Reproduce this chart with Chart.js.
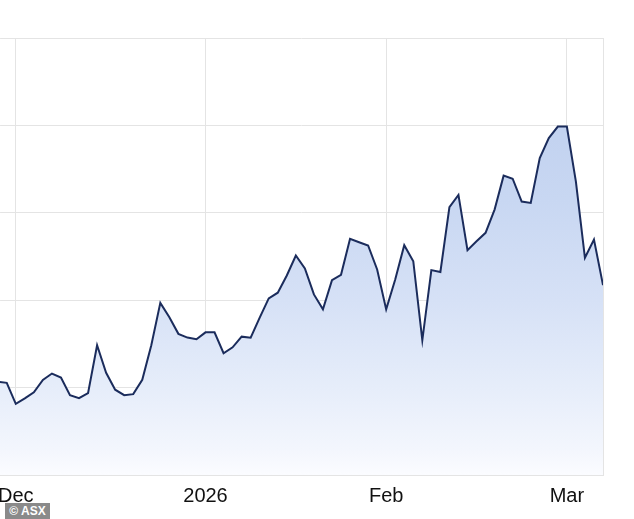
<!DOCTYPE html>
<html>
<head>
<meta charset="utf-8">
<script src="https://cdn.jsdelivr.net/npm/chart.js@4"></script>
<style>
  html, body { margin: 0; padding: 0; background: #ffffff; }
  #wrap { position: relative; width: 634px; height: 519px; overflow: hidden; }
  canvas { position: absolute; left: -11px; top: 0; }
  #credit { position: absolute; left: 5px; top: 503px; width: 45px; height: 16px; background: #8a8a8a; color: #ffffff;
    font: bold 12px "Liberation Sans", Arial, sans-serif; line-height: 16px; text-align: center; }
</style>
</head>
<body>
<div id="wrap">
  <canvas id="c" width="645" height="519"></canvas>
  <div id="credit">© ASX</div>
</div>
<script>
// Trading-day index of the first value (two sessions before 1 Dec)
const firstIndex = -2;
// Daily closing values (relative units), one per trading day
const values = [
  10.67, 10.54,
  8.14, 8.76, 9.47, 10.88, 11.61, 11.15, 9.13, 8.79, 9.36, 14.84,
  11.70, 9.76, 9.13, 9.25, 10.90, 14.84, 19.69, 18.04, 16.15, 15.72,
  15.53, 16.32, 16.32, 13.93, 14.61, 15.83, 15.70, 18.00, 20.21, 20.86,
  22.83, 25.11, 23.63, 20.66, 18.95, 22.29, 22.91, 27.02, 26.63, 26.26,
  23.52, 18.95, 22.37, 26.29, 24.46, 15.41, 23.44, 23.23, 30.65, 32.05,
  25.72, 26.75, 27.71, 30.37, 34.25, 33.90, 31.28, 31.13, 36.27, 38.55,
  39.87, 39.87, 33.56, 24.85, 26.94, 21.72
];
// Month tick positions (trading-day index) and labels
const tickPositions = [0, 21, 41, 61];
const tickLabels = ['Dec', '2026', 'Feb', 'Mar'];

const points = values.map((v, i) => ({ x: firstIndex + i, y: v }));
const gridColor = '#e4e4e4';

new Chart(document.getElementById('c'), {
  type: 'line',
  data: {
    datasets: [{
      data: points,
      borderColor: '#1b2c5c',
      borderWidth: 2,
      pointRadius: 0,
      tension: 0,
      fill: 'start',
      backgroundColor: (ctx) => {
        const chart = ctx.chart;
        const area = chart.chartArea;
        if (!area) return 'rgba(190,206,238,0.6)';
        const g = chart.ctx.createLinearGradient(0, area.top, 0, area.bottom);
        g.addColorStop(0, '#b8cbee');
        g.addColorStop(0.2, '#c2d2f0');
        g.addColorStop(0.37, '#c8d7f2');
        g.addColorStop(0.6, '#d6e1f6');
        g.addColorStop(0.8, '#e6edfa');
        g.addColorStop(0.94, '#f3f6fd');
        g.addColorStop(1, '#fbfcff');
        return g;
      }
    }]
  },
  options: {
    responsive: false,
    animation: false,
    devicePixelRatio: 1,
    layout: { padding: { left: 0, right: 31, top: 38, bottom: 2 } },
    plugins: { legend: { display: false }, tooltip: { enabled: false } },
    scales: {
      x: {
        type: 'linear',
        min: -1.735,
        max: 65,
        afterBuildTicks: (scale) => { scale.ticks = tickPositions.map(v => ({ value: v })); },
        ticks: {
          autoSkip: false,
          maxRotation: 0,
          padding: 9,
          color: '#111111',
          font: { family: '"Liberation Sans", Arial, sans-serif', size: 20 },
          callback: (v) => tickLabels[tickPositions.indexOf(v)]
        },
        grid: { color: gridColor, drawTicks: false },
        border: { display: true, color: gridColor }
      },
      y: {
        position: 'right',
        min: 0,
        max: 50,
        ticks: { stepSize: 10, display: false },
        grid: { color: gridColor, drawTicks: false },
        border: { display: true, color: gridColor }
      }
    }
  }
});
</script>
</body>
</html>
